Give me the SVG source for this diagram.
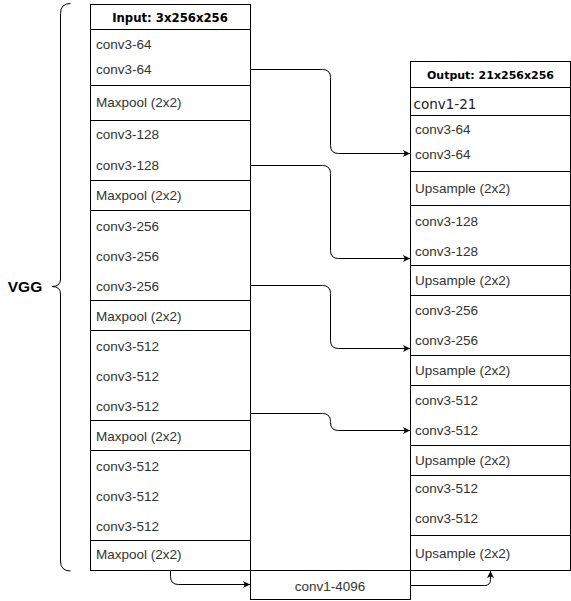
<svg xmlns="http://www.w3.org/2000/svg" width="571" height="601" viewBox="0 0 571 601">
<defs>
<marker id="arr" viewBox="0 0 10 10" refX="10" refY="5" markerWidth="7" markerHeight="7" markerUnits="userSpaceOnUse" orient="auto"><path d="M0,0 L10,5 L0,10 L2.5,5 Z" fill="#000"/></marker>
</defs>
<style>
.box{fill:#fff;stroke:#000;stroke-width:1}
.sep{stroke:#000;stroke-width:1}
.t{font-family:"Liberation Sans",Arial,sans-serif;font-size:13.5px;fill:#333}
.h{font-family:"DejaVu Sans",Verdana,sans-serif;font-size:11px;font-weight:bold;fill:#000;text-anchor:middle}
.c{fill:none;stroke:#000;stroke-width:1}
</style>
<rect width="571" height="601" fill="#fff"/>
<g id="vgg-brace">
<path class="c" d="M70.5,3.5 Q60.5,3.5 60.5,13.5 L60.5,279 Q60.5,286.5 52,286.5 Q60.5,286.5 60.5,294 L60.5,561 Q60.5,571 70.5,571"/>
<text x="25" y="292" font-family="'Liberation Sans',Arial,sans-serif" font-size="15.5" font-weight="bold" fill="#000" text-anchor="middle">VGG</text>
</g>
<g id="encoder">
<rect class="box" x="90.5" y="4.5" width="160" height="566"/>
<line class="sep" x1="90" y1="29.5" x2="251" y2="29.5"/>
<line class="sep" x1="90" y1="85.5" x2="251" y2="85.5"/>
<line class="sep" x1="90" y1="120.5" x2="251" y2="120.5"/>
<line class="sep" x1="90" y1="180.5" x2="251" y2="180.5"/>
<line class="sep" x1="90" y1="210.5" x2="251" y2="210.5"/>
<line class="sep" x1="90" y1="300.5" x2="251" y2="300.5"/>
<line class="sep" x1="90" y1="330.5" x2="251" y2="330.5"/>
<line class="sep" x1="90" y1="420.5" x2="251" y2="420.5"/>
<line class="sep" x1="90" y1="450.5" x2="251" y2="450.5"/>
<line class="sep" x1="90" y1="540.5" x2="251" y2="540.5"/>
<text class="h" x="170" y="21.5" style="font-size:11.7px">Input: 3x256x256</text>
<text class="t" x="96" y="49">conv3-64</text>
<text class="t" x="96" y="74">conv3-64</text>
<text class="t" x="96" y="107">Maxpool (2x2)</text>
<text class="t" x="96" y="139">conv3-128</text>
<text class="t" x="96" y="170">conv3-128</text>
<text class="t" x="96" y="200">Maxpool (2x2)</text>
<text class="t" x="96" y="231">conv3-256</text>
<text class="t" x="96" y="261">conv3-256</text>
<text class="t" x="96" y="291">conv3-256</text>
<text class="t" x="96" y="321">Maxpool (2x2)</text>
<text class="t" x="96" y="351">conv3-512</text>
<text class="t" x="96" y="381">conv3-512</text>
<text class="t" x="96" y="411">conv3-512</text>
<text class="t" x="96" y="441">Maxpool (2x2)</text>
<text class="t" x="96" y="471">conv3-512</text>
<text class="t" x="96" y="501">conv3-512</text>
<text class="t" x="96" y="531">conv3-512</text>
<text class="t" x="96" y="559">Maxpool (2x2)</text>
</g>
<g id="decoder">
<rect class="box" x="410.5" y="61.5" width="160" height="509"/>
<line class="sep" x1="410" y1="87.5" x2="571" y2="87.5"/>
<line class="sep" x1="410" y1="115.5" x2="571" y2="115.5"/>
<line class="sep" x1="410" y1="171.5" x2="571" y2="171.5"/>
<line class="sep" x1="410" y1="205.5" x2="571" y2="205.5"/>
<line class="sep" x1="410" y1="265.5" x2="571" y2="265.5"/>
<line class="sep" x1="410" y1="295.5" x2="571" y2="295.5"/>
<line class="sep" x1="410" y1="355.5" x2="571" y2="355.5"/>
<line class="sep" x1="410" y1="385.5" x2="571" y2="385.5"/>
<line class="sep" x1="410" y1="445.5" x2="571" y2="445.5"/>
<line class="sep" x1="410" y1="475.5" x2="571" y2="475.5"/>
<line class="sep" x1="410" y1="535.5" x2="571" y2="535.5"/>
<text class="h" x="490.5" y="79">Output: 21x256x256</text>
<text x="413.5" y="108.5" font-family="'DejaVu Sans',Verdana,sans-serif" font-size="13.5" fill="#222">conv1-21</text>
<text class="t" x="415" y="134">conv3-64</text>
<text class="t" x="415" y="159">conv3-64</text>
<text class="t" x="415" y="193">Upsample (2x2)</text>
<text class="t" x="415" y="226">conv3-128</text>
<text class="t" x="415" y="256">conv3-128</text>
<text class="t" x="415" y="285">Upsample (2x2)</text>
<text class="t" x="415" y="315">conv3-256</text>
<text class="t" x="415" y="345">conv3-256</text>
<text class="t" x="415" y="375">Upsample (2x2)</text>
<text class="t" x="415" y="405">conv3-512</text>
<text class="t" x="415" y="435">conv3-512</text>
<text class="t" x="415" y="465">Upsample (2x2)</text>
<text class="t" x="415" y="493">conv3-512</text>
<text class="t" x="415" y="523">conv3-512</text>
<text class="t" x="415" y="558">Upsample (2x2)</text>
</g>
<g id="bottleneck">
<rect class="box" x="250.5" y="570.5" width="160" height="29"/>
<text class="t" x="330" y="591" text-anchor="middle">conv1-4096</text>
</g>
<g id="connectors">
<path class="c" marker-end="url(#arr)" d="M250.5,69.5 H322.5 Q330.5,69.5 330.5,77.5 V145.5 Q330.5,153.5 338.5,153.5 H410"/>
<path class="c" marker-end="url(#arr)" d="M250.5,165.5 H322.5 Q330.5,165.5 330.5,173.5 V250.5 Q330.5,258.5 338.5,258.5 H410"/>
<path class="c" marker-end="url(#arr)" d="M250.5,285.5 H322.5 Q330.5,285.5 330.5,293.5 V340.5 Q330.5,348.5 338.5,348.5 H410"/>
<path class="c" marker-end="url(#arr)" d="M250.5,413.5 H322.5 Q330.5,413.5 330.5,421.5 V422.5 Q330.5,430.5 338.5,430.5 H410"/>
<path class="c" marker-end="url(#arr)" d="M170.5,571 V576.5 Q170.5,584.5 178.5,584.5 H250"/>
<path class="c" marker-end="url(#arr)" d="M410.5,585.5 H484.5 Q490.5,585.5 490.5,579.5 V571"/>
</g>
</svg>
